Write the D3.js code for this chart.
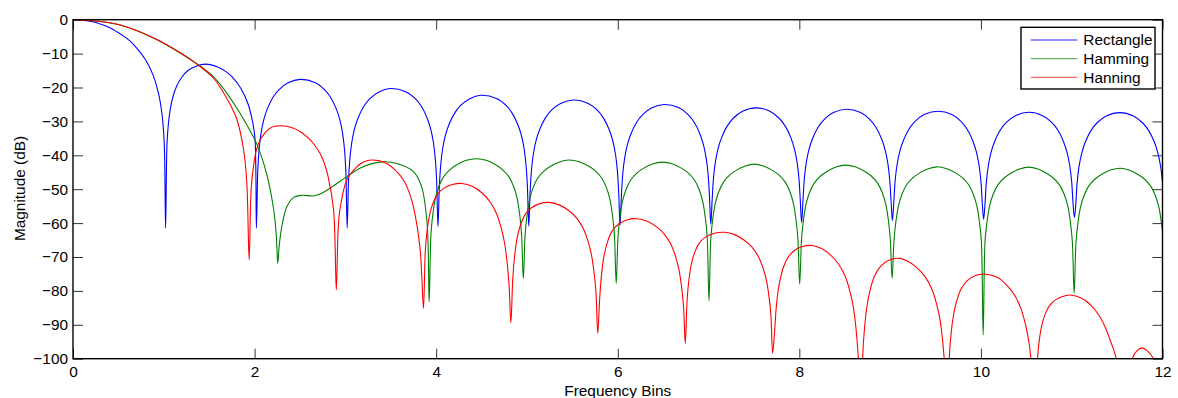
<!DOCTYPE html>
<html>
<head>
<meta charset="utf-8">
<script src="https://cdn.jsdelivr.net/npm/d3@7"></script>
<style>
	body { margin: 0; background: #fff; }
	svg { display: block; font-family: "Liberation Sans", Arial, sans-serif; }
</style>
</head>
<body>
<svg id="chart"></svg>
<script>
// [frequency bin, magnitude dB]
const rectangle = [
	[0,0],[0.1,-0.14],[0.2,-0.55],[0.3,-1.25],[0.4,-2.3],[0.55,-4.7],[0.62,-6.1],[0.7,-8.3],[0.8,-11.9],[0.88,-16.2],[0.94,-21.5],[0.98,-27.8],[1.005,-36.5],[1.02,-61.5],
	[1.035,-36.8],[1.05,-30.9],[1.07,-26.6],[1.1,-22.8],[1.14,-19.7],[1.2,-16.9],[1.27,-14.9],[1.35,-13.8],[1.46,-13.1],[1.6,-14],[1.7,-15.6],[1.75,-16.8],[1.85,-20.3],[1.93,-25],[1.98,-30.4],[2.005,-35.2],[2.02,-61.5],
	[2.035,-44.6],[2.05,-38.2],[2.07,-33.6],[2.1,-29.6],[2.14,-26.3],[2.2,-23],[2.27,-20.6],[2.37,-18.6],[2.5,-17.6],[2.67,-18.6],[2.77,-20.6],[2.84,-23],[2.9,-26.3],[2.94,-29.6],[2.97,-33.6],[2.99,-38.2],[3.005,-44.6],[3.02,-61.4],
	[3.035,-47.3],[3.05,-40.9],[3.07,-36.3],[3.1,-32.3],[3.14,-29],[3.2,-25.7],[3.27,-23.3],[3.37,-21.3],[3.49,-20.3],[3.67,-21.3],[3.77,-23.3],[3.84,-25.7],[3.9,-29],[3.94,-32.3],[3.97,-36.3],[3.99,-40.9],[4.005,-47.3],[4.02,-61],
	[4.035,-49.3],[4.05,-42.9],[4.07,-38.3],[4.1,-34.3],[4.14,-31],[4.2,-27.7],[4.27,-25.3],[4.37,-23.3],[4.49,-22.3],[4.67,-23.3],[4.77,-25.3],[4.84,-27.7],[4.9,-31],[4.94,-34.3],[4.97,-38.3],[4.99,-42.9],[5.005,-49.3],[5.02,-60.9],
	[5.035,-50.7],[5.05,-44.3],[5.07,-39.7],[5.1,-35.7],[5.14,-32.4],[5.2,-29.1],[5.27,-26.7],[5.37,-24.7],[5.51,-23.7],[5.675,-24.7],[5.775,-26.7],[5.845,-29.1],[5.905,-32.4],[5.945,-35.7],[5.975,-39.7],[5.995,-44.3],[6.01,-50.7],[6.025,-60.6],
	[6.04,-52],[6.055,-45.6],[6.075,-41],[6.105,-37],[6.145,-33.7],[6.205,-30.4],[6.275,-28],[6.375,-26],[6.51,-25],[6.675,-26],[6.775,-28],[6.845,-30.4],[6.905,-33.7],[6.945,-37],[6.975,-41],[6.995,-45.6],[7.01,-52],[7.025,-60.3],
	[7.04,-53],[7.055,-46.6],[7.075,-42],[7.105,-38],[7.145,-34.7],[7.205,-31.4],[7.275,-29],[7.375,-27],[7.52,-26],[7.675,-27],[7.775,-29],[7.845,-31.4],[7.905,-34.7],[7.945,-38],[7.975,-42],[7.995,-46.6],[8.01,-53],[8.025,-59.9],
	[8.04,-53.4],[8.055,-47],[8.075,-42.4],[8.105,-38.4],[8.145,-35.1],[8.205,-31.8],[8.275,-29.4],[8.375,-27.4],[8.52,-26.4],[8.675,-27.4],[8.775,-29.4],[8.845,-31.8],[8.905,-35.1],[8.945,-38.4],[8.975,-42.4],[8.995,-47],[9.01,-53.4],[9.025,-59.3],
	[9.04,-54],[9.055,-47.6],[9.075,-43],[9.105,-39],[9.145,-35.7],[9.205,-32.4],[9.275,-30],[9.375,-28],[9.53,-27],[9.68,-28],[9.78,-30],[9.85,-32.4],[9.91,-35.7],[9.95,-39],[9.98,-43],[10,-47.6],[10.015,-54],[10.03,-58.9],
	[10.045,-54.3],[10.06,-47.9],[10.08,-43.3],[10.11,-39.3],[10.15,-36],[10.21,-32.7],[10.28,-30.3],[10.38,-28.3],[10.53,-27.3],[10.68,-28.3],[10.78,-30.3],[10.85,-32.7],[10.91,-36],[10.95,-39.3],[10.98,-43.3],[11,-47.9],[11.015,-54.3],[11.03,-58.3],
	[11.045,-54.4],[11.06,-48],[11.08,-43.4],[11.11,-39.4],[11.15,-36.1],[11.21,-32.8],[11.28,-30.4],[11.38,-28.4],[11.53,-27.4],[11.68,-28.4],[11.78,-30.4],[11.85,-32.8],[11.91,-36.1],[11.95,-39.4],[11.98,-43.4],[12,-48]
];

const hamming = [
	[0,0],[0.25,-0.4],[0.52,-1.56],[0.885,-5.4],[1.18,-9.8],[1.38,-13.3],[1.546,-16.8],[1.69,-21.5],[1.84,-27.6],[2.02,-36.4],
	[2.13,-45.2],[2.21,-56],[2.24,-64],[2.255,-71.9],[2.27,-67],[2.3,-61],[2.355,-55.2],[2.43,-52.4],[2.52,-51.8],[2.65,-52],
	[2.74,-51.2],[2.83,-49.7],[3.016,-46.3],[3.16,-43.8],[3.38,-42],[3.567,-42.4],[3.75,-44.8],[3.84,-49.3],[3.9,-60],[3.923,-83.2],
	[3.943,-63],[3.963,-57.5],[3.993,-52.5],[4.033,-49],[4.083,-46.3],[4.153,-44.2],[4.223,-42.85],[4.323,-41.55],[4.448,-41],[4.56,-41.55],[4.66,-42.85],[4.73,-44.2],[4.8,-46.3],[4.85,-49],[4.89,-52.5],[4.92,-57.5],[4.94,-63],[4.96,-76.3],
	[4.98,-63.4],[5,-57.9],[5.03,-52.9],[5.07,-49.4],[5.12,-46.7],[5.19,-44.6],[5.26,-43.25],[5.36,-41.95],[5.458,-41.4],[5.583,-41.95],[5.683,-43.25],[5.753,-44.6],[5.823,-46.7],[5.873,-49.4],[5.913,-52.9],[5.943,-57.9],[5.963,-63.4],[5.983,-77.8],
	[6.003,-64],[6.023,-58.5],[6.053,-53.5],[6.093,-50],[6.143,-47.3],[6.213,-45.2],[6.283,-43.85],[6.383,-42.55],[6.487,-42],[6.605,-42.55],[6.705,-43.85],[6.775,-45.2],[6.845,-47.3],[6.895,-50],[6.935,-53.5],[6.965,-58.5],[6.985,-64],[7.005,-82.9],
	[7.025,-64.6],[7.045,-59.1],[7.075,-54.1],[7.115,-50.6],[7.165,-47.9],[7.235,-45.8],[7.305,-44.45],[7.405,-43.15],[7.5,-42.6],[7.604,-43.15],[7.704,-44.45],[7.774,-45.8],[7.844,-47.9],[7.894,-50.6],[7.934,-54.1],[7.964,-59.1],[7.984,-64.6],[8.004,-78],
	[8.024,-64.9],[8.044,-59.4],[8.074,-54.4],[8.114,-50.9],[8.164,-48.2],[8.234,-46.1],[8.304,-44.75],[8.404,-43.45],[8.507,-42.9],[8.622,-43.45],[8.722,-44.75],[8.792,-46.1],[8.862,-48.2],[8.912,-50.9],[8.952,-54.4],[8.982,-59.4],[9.002,-64.9],[9.022,-76.3],
	[9.042,-65.4],[9.062,-59.9],[9.092,-54.9],[9.132,-51.4],[9.182,-48.7],[9.252,-46.6],[9.322,-45.25],[9.422,-43.95],[9.517,-43.4],[9.625,-43.95],[9.725,-45.25],[9.795,-46.6],[9.865,-48.7],[9.915,-51.4],[9.955,-54.9],[9.985,-59.9],[10.005,-65.4],[10.025,-93],
	[10.045,-65.5],[10.065,-60],[10.095,-55],[10.135,-51.5],[10.185,-48.8],[10.255,-46.7],[10.325,-45.35],[10.425,-44.05],[10.527,-43.5],[10.627,-44.05],[10.727,-45.35],[10.797,-46.7],[10.867,-48.8],[10.917,-51.5],[10.957,-55],[10.987,-60],[11.007,-65.5],[11.027,-80.7],
	[11.047,-65.8],[11.067,-60.3],[11.097,-55.3],[11.137,-51.8],[11.187,-49.1],[11.257,-47],[11.327,-45.65],[11.427,-44.35],[11.537,-43.8],[11.63,-44.35],[11.73,-45.65],[11.8,-47],[11.87,-49.1],[11.92,-51.8],[11.96,-55.3],[11.99,-60.3],[12,-62.5]
];

const hanning = [
	[0,0],[0.25,-0.4],[0.52,-1.56],[0.885,-5.3],[1.18,-9.7],[1.38,-13.4],[1.546,-17.2],[1.69,-23],[1.8,-29],[1.877,-38],[1.914,-47.8],[1.94,-70.9],
	[1.962,-50],[1.987,-43.4],[2.02,-38.5],[2.06,-35.5],[2.17,-32],[2.28,-31.3],[2.43,-32],[2.5,-33],[2.575,-34.5],[2.65,-36.6],[2.72,-39.4],[2.77,-42.5],[2.81,-46.3],[2.87,-56.1],[2.9,-79.7],
	[2.92,-62],[2.94,-56],[3.016,-47.3],[3.126,-43.4],[3.2,-42],[3.29,-41.4],[3.457,-42.4],[3.55,-44.4],[3.64,-47.3],[3.7,-50.7],[3.75,-55.2],[3.824,-67.9],[3.86,-85.1],
	[3.88,-68.3],[3.9,-62.3],[3.93,-57.3],[3.97,-53.8],[4.02,-51.3],[4.09,-49.6],[4.18,-48.6],[4.283,-48.3],[4.403,-49.2],[4.503,-51.05],[4.593,-53.7],[4.663,-57.1],[4.713,-61.1],[4.753,-65.8],[4.783,-72],[4.803,-78.3],[4.823,-89.4],
	[4.843,-76.9],[4.863,-70],[4.893,-64.3],[4.933,-60.2],[4.983,-57.35],[5.053,-55.4],[5.143,-54.25],[5.238,-53.9],[5.36,-54.7],[5.46,-56.3],[5.55,-58.6],[5.62,-61.6],[5.67,-65.1],[5.71,-69.3],[5.74,-74.8],[5.76,-80.3],[5.78,-92.5],
	[5.8,-82.7],[5.82,-75.5],[5.85,-69.5],[5.89,-65.3],[5.94,-62.3],[6.01,-60.26],[6.1,-59.06],[6.21,-58.7],[6.324,-59.45],[6.424,-61.05],[6.514,-63.3],[6.584,-66.2],[6.634,-69.6],[6.674,-73.7],[6.704,-79],[6.724,-84.4],[6.744,-95.5],
	[6.764,-82.7],[6.784,-76.7],[6.814,-71.7],[6.854,-68.2],[6.904,-65.7],[6.974,-64],[7.064,-63],[7.18,-62.7],[7.286,-63.4],[7.386,-64.9],[7.476,-67],[7.546,-69.7],[7.596,-72.9],[7.636,-76.7],[7.666,-81.7],[7.686,-86.7],[7.706,-98.4],
	[7.726,-92.6],[7.746,-84.8],[7.776,-78.3],[7.816,-73.75],[7.866,-70.5],[7.936,-68.3],[8.026,-67],[8.14,-66.6],[8.245,-67.5],[8.345,-69.46],[8.435,-72.2],[8.505,-75.7],[8.555,-79.9],[8.595,-84.8],[8.625,-91.3],[8.645,-97.8],[8.665,-104],
	[8.685,-106.4],[8.705,-95.6],[8.735,-86.6],[8.775,-80.3],[8.825,-75.8],[8.895,-72.74],[8.985,-70.94],[9.11,-70.4],[9.2,-71.3],[9.3,-73.26],[9.39,-76],[9.46,-79.5],[9.51,-83.7],[9.55,-88.6],[9.58,-95.1],[9.6,-101.6],[9.62,-108],
	[9.64,-105],[9.66,-96],[9.69,-88.5],[9.73,-83.25],[9.78,-79.5],[9.85,-76.95],[9.94,-75.45],[10.03,-75],[10.18,-76],[10.28,-78.2],[10.37,-81.2],[10.44,-85.15],[10.49,-89.8],[10.53,-95.3],[10.56,-102.6],[10.58,-109.8],[10.6,-112],
	[10.62,-101.2],[10.64,-95.2],[10.67,-90.2],[10.71,-86.7],[10.76,-84.2],[10.83,-82.5],[10.92,-81.5],[10.986,-81.2],[11.11,-82.2],[11.21,-84.2],[11.3,-87.2],[11.37,-90.8],[11.43,-95],[11.49,-99.9],[11.53,-108],[11.57,-118],
	[11.62,-106],[11.666,-100],[11.72,-97.6],[11.775,-96.8],[11.83,-97.6],[11.9,-100],[11.95,-108],[12,-118]
];

const seriesNames = ["Rectangle", "Hamming", "Hanning"];
const seriesColours = ["#0000ff", "#008000", "#ff0000"];
const xTicks = [0, 2, 4, 6, 8, 10, 12];
const yTicks = [0, -10, -20, -30, -40, -50, -60, -70, -80, -90, -100];

const width = 1178;
const height = 398;
const plot = { "left": 73, "right": 1162.5, "top": 19.7, "bottom": 358.7 };
const fontSize = "15.4px";

let svg = d3.select("#chart")
	.attr("width", width)
	.attr("height", height);

let x = d3.scaleLinear().domain([0, 12]).range([plot.left, plot.right]);
let y = d3.scaleLinear().domain([-100, 0]).range([plot.bottom, plot.top]);

// clip curves to the axes box like matlab does
svg.append("clipPath")
	.attr("id", "plot-clip")
	.append("rect")
	.attr("x", plot.left)
	.attr("y", plot.top)
	.attr("width", plot.right - plot.left)
	.attr("height", plot.bottom - plot.top);

function drawAxes(){
	let left = svg.append("g")
		.attr("transform", "translate(" + plot.left + ",0)")
		.call(d3.axisLeft(y).tickValues(yTicks).tickSizeInner(-10).tickSizeOuter(0).tickPadding(5));
	let bottom = svg.append("g")
		.attr("transform", "translate(0," + plot.bottom + ")")
		.call(d3.axisBottom(x).tickValues(xTicks).tickSizeInner(-10).tickSizeOuter(0).tickPadding(7.5));
	let right = svg.append("g")
		.attr("transform", "translate(" + plot.right + ",0)")
		.call(d3.axisRight(y).tickValues(yTicks).tickSizeInner(-10).tickSizeOuter(0).tickFormat(""));
	let top = svg.append("g")
		.attr("transform", "translate(0," + plot.top + ")")
		.call(d3.axisTop(x).tickValues(xTicks).tickSizeInner(-10).tickSizeOuter(0).tickFormat(""));

	[left, bottom, right, top].forEach(function(g){
		g.select(".domain").remove();
		g.selectAll(".tick line").attr("stroke", "#333").attr("stroke-width", 1);
		g.selectAll("text")
			.attr("fill", "#000")
			.style("font-size", fontSize)
			.style("font-family", "'Liberation Sans', Arial, sans-serif");
	});

	svg.append("text")
		.attr("x", (plot.left + plot.right) / 2)
		.attr("y", 396)
		.attr("text-anchor", "middle")
		.style("font-size", fontSize)
		.text("Frequency Bins");

	svg.append("text")
		.attr("transform", "translate(24.5,188.5) rotate(-90)")
		.attr("text-anchor", "middle")
		.style("font-size", fontSize)
		.text("Magnitude (dB)");
};

function drawLines(){
	let line = d3.line()
		.x(function(d){ return x(d[0]); })
		.y(function(d){ return y(d[1]); })
		.curve(d3.curveCatmullRom.alpha(0.5));

	let lines = svg.append("g").attr("clip-path", "url(#plot-clip)");
	[rectangle, hamming, hanning].forEach(function(data, i){
		lines.append("path")
			.datum(data)
			.attr("fill", "none")
			.attr("stroke", seriesColours[i])
			.attr("stroke-width", 1.1)
			.attr("d", line);
	});

	svg.append("rect")
		.attr("x", plot.left)
		.attr("y", plot.top)
		.attr("width", plot.right - plot.left)
		.attr("height", plot.bottom - plot.top)
		.attr("fill", "none")
		.attr("stroke", "#000")
		.attr("stroke-width", 1.4);
};

function drawLegend(){
	let legend = svg.append("g").attr("transform", "translate(1021,27.3)");
	legend.append("rect")
		.attr("width", 134)
		.attr("height", 61.7)
		.attr("fill", "#fff")
		.attr("stroke", "#000")
		.attr("stroke-width", 1.4);

	let rows = legend.selectAll("g.row")
		.data(seriesNames)
		.enter()
		.append("g")
		.classed("row", true)
		.attr("transform", function(d, i){ return "translate(0," + (12.7 + i * 18.7) + ")"; });

	rows.append("line")
		.attr("x1", 9.7)
		.attr("x2", 56.3)
		.attr("stroke", function(d, i){ return seriesColours[i]; })
		.attr("stroke-opacity", 0.6)
		.attr("stroke-width", 1.3);

	rows.append("text")
		.attr("x", 62.3)
		.attr("dy", "0.34em")
		.style("font-size", fontSize)
		.text(function(d){ return d; });
};

drawAxes();
drawLines();
drawLegend();
</script>
</body>
</html>
